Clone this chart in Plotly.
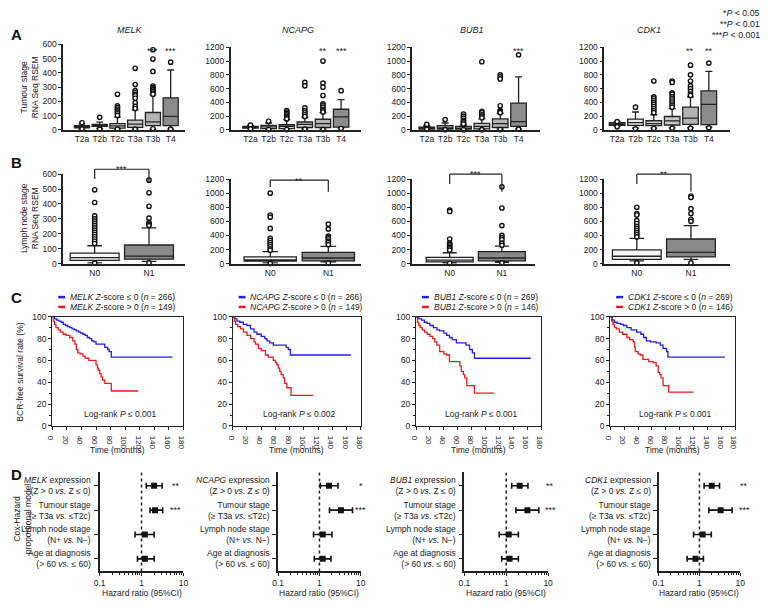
import plotly.graph_objects as go

W, H = 768, 606
FONT = "Liberation Sans, Arial, Helvetica, sans-serif"

# ---------------- data ----------------
GENES = ["MELK", "NCAPG", "BUB1", "CDK1"]
T_STAGES = ["T2a", "T2b", "T2c", "T3a", "T3b", "T4"]
N_STAGES = ["N0", "N1"]
Y_MAX = {"MELK": 600, "NCAPG": 1200, "BUB1": 1200, "CDK1": 1200}
Y_DTICK = {"MELK": 100, "NCAPG": 200, "BUB1": 200, "CDK1": 200}

# Panel A: tumour stage, RNA Seq RSEM box statistics
A_LO = {"MELK": [8, 10, 5, 5, 5, 5], "NCAPG": [20, 10, 10, 15, 10, 30],
        "BUB1": [10, 5, 5, 5, 10, 15], "CDK1": [55, 25, 25, 30, 30, 40]}
A_Q1 = {"MELK": [15, 25, 12, 18, 30, 30], "NCAPG": [25, 20, 20, 35, 35, 40],
        "BUB1": [12, 10, 10, 15, 35, 50], "CDK1": [65, 67, 62, 71, 81, 76]}
A_MED = {"MELK": [22, 31, 28, 40, 57, 95], "NCAPG": [40, 45, 50, 80, 90, 190],
         "BUB1": [25, 30, 25, 50, 90, 120], "CDK1": [85, 105, 90, 130, 170, 370]}
A_Q3 = {"MELK": [30, 38, 44, 69, 122, 225], "NCAPG": [50, 65, 75, 115, 155, 300],
        "BUB1": [40, 60, 50, 95, 160, 390], "CDK1": [105, 157, 133, 195, 330, 567]}
A_HI = {"MELK": [42, 55, 90, 140, 245, 420], "NCAPG": [60, 100, 150, 180, 250, 440],
        "BUB1": [60, 100, 75, 160, 240, 770], "CDK1": [115, 260, 220, 310, 480, 850]}
A_OUT = {
    "MELK": [[50, 6], [88, 5], [250, 168, 156, 145, 133, 124, 113, 101, 5],
             [432, 318, 275, 262, 250, 240, 222, 190, 165, 150, 5],
             [562, 497, 410, 308, 298, 288, 280, 270, 258, 250, 8], [475, 5]],
    "NCAPG": [[70, 15], [125, 5], [280, 260, 240, 220, 200, 180, 160, 5],
              [690, 640, 320, 280, 250, 220, 195, 10],
              [1000, 680, 620, 500, 380, 360, 330, 300, 280, 260, 5], [570, 20]],
    "BUB1": [[80, 8], [150, 3], [230, 200, 170, 140, 120, 100, 85, 3],
             [990, 270, 250, 220, 200, 175, 3],
             [800, 770, 740, 350, 280, 265, 250, 5], [1090, 10]],
    "CDK1": [[120, 45], [330, 15], [710, 480, 460, 430, 400, 370, 340, 310, 280, 250, 20],
             [710, 690, 540, 520, 480, 450, 420, 390, 360, 330, 25],
             [940, 800, 710, 640, 600, 560, 520, 500, 25], [970, 30]],
}
A_SIG = {"MELK": ["", "", "", "", "***", "***"], "NCAPG": ["", "", "", "", "**", "***"],
         "BUB1": ["", "", "", "", "", "***"], "CDK1": ["", "", "", "", "**", "**"]}
A_FILL = ["#959595", "#e8e8e8", "#d2d2d2", "#c6c6c6", "#b4b4b4", "#8c8c8c"]

# Panel B: lymph node stage box statistics
B_LO = {"MELK": [5, 15], "NCAPG": [10, 25], "BUB1": [10, 20], "CDK1": [40, 60]}
B_Q1 = {"MELK": [22, 30], "NCAPG": [35, 40], "BUB1": [25, 40], "CDK1": [60, 95]}
B_MED = {"MELK": [40, 50], "NCAPG": [55, 80], "BUB1": [50, 80], "CDK1": [105, 160]}
B_Q3 = {"MELK": [70, 125], "NCAPG": [95, 160], "BUB1": [90, 170], "CDK1": [195, 350]}
B_HI = {"MELK": [120, 240], "NCAPG": [170, 245], "BUB1": [155, 250], "CDK1": [360, 540]}
B_OUT = {
    "MELK": [[495, 410, 320, 300, 285, 270, 255, 240, 225, 210, 195, 180, 165, 150, 135, 3],
             [560, 475, 385, 305, 275, 265, 255, 5]],
    "NCAPG": [[1000, 690, 660, 500, 360, 330, 300, 270, 240, 210, 190, 3],
              [560, 490, 390, 370, 350, 320, 300, 270, 5]],
    "BUB1": [[760, 740, 350, 290, 270, 250, 230, 210, 190, 5],
             [1090, 790, 540, 400, 370, 340, 290, 260, 10]],
    "CDK1": [[800, 710, 690, 610, 570, 530, 500, 470, 440, 410, 380, 10],
             [960, 940, 780, 710, 630, 600, 10]],
}
B_SIG = {"MELK": "***", "NCAPG": "**", "BUB1": "***", "CDK1": "**"}
B_FILL = ["#f6f6f6", "#8a8a8a"]

# Panel C: Kaplan-Meier BCR-free survival (%)
KM_N = {"MELK": (266, 149), "NCAPG": (266, 149), "BUB1": (269, 146), "CDK1": (269, 146)}
KM_P = {"MELK": "0.001", "NCAPG": "0.002", "BUB1": "0.001", "CDK1": "0.001"}
KM_LOW_T = {
    "MELK": [0, 3, 6, 9, 12, 15, 18, 21, 24, 27, 30, 33, 36, 39, 42, 45, 48, 51, 54, 57, 60, 72, 76, 78, 81, 165],
    "NCAPG": [0, 3, 6, 10, 15, 20, 25, 30, 34, 40, 45, 48, 52, 57, 75, 78, 81, 166],
    "BUB1": [0, 4, 8, 12, 16, 20, 25, 30, 34, 40, 44, 48, 52, 58, 72, 77, 81, 84, 165],
    "CDK1": [0, 3, 6, 10, 15, 19, 24, 30, 38, 44, 48, 52, 58, 66, 72, 76, 81, 83, 165],
}
KM_LOW_S = {
    "MELK": [100, 98, 97, 96, 95, 93, 92, 91, 90, 89, 88, 87, 86, 85, 84, 83, 81, 80, 78, 77, 75, 72, 70, 68, 63, 63],
    "NCAPG": [100, 98, 96, 95, 93, 92, 89, 86, 84, 82, 80, 78, 76, 74, 72, 70, 65, 65],
    "BUB1": [100, 98, 97, 95, 94, 92, 90, 88, 87, 85, 83, 81, 79, 76, 74, 70, 67, 62, 62],
    "CDK1": [100, 97, 95, 94, 93, 92, 90, 88, 86, 84, 81, 78, 77, 76, 74, 71, 68, 63, 63],
}
KM_HIGH_T = {
    "MELK": [0, 1, 3, 5, 8, 11, 15, 19, 24, 28, 31, 33, 35, 38, 42, 45, 50, 60, 62, 63, 65, 67, 69, 72, 78, 81, 118],
    "NCAPG": [0, 2, 4, 7, 11, 15, 20, 25, 30, 32, 36, 40, 46, 50, 57, 60, 62, 64, 66, 68, 71, 73, 76, 80, 82, 113],
    "BUB1": [0, 2, 4, 6, 9, 12, 16, 20, 24, 27, 30, 34, 40, 44, 48, 63, 65, 68, 70, 73, 74, 81, 84, 112],
    "CDK1": [0, 2, 4, 6, 9, 13, 18, 24, 28, 33, 35, 36, 40, 43, 47, 55, 62, 66, 69, 71, 73, 76, 83, 84, 120],
}
KM_HIGH_S = {
    "MELK": [100, 96, 93, 90, 88, 86, 84, 83, 81, 78, 75, 70, 67, 66, 64, 62, 60, 56, 53, 51, 48, 45, 42, 39, 39, 32, 32],
    "NCAPG": [100, 96, 93, 91, 89, 86, 83, 80, 77, 75, 71, 69, 65, 63, 60, 58, 56, 53, 50, 47, 44, 39, 35, 35, 28, 28],
    "BUB1": [100, 95, 92, 90, 88, 86, 84, 82, 80, 77, 74, 68, 66, 65, 59, 55, 50, 47, 44, 37, 37, 37, 30, 30],
    "CDK1": [100, 96, 93, 90, 89, 86, 84, 81, 79, 77, 72, 68, 66, 65, 61, 59, 58, 55, 49, 47, 44, 37, 37, 31, 31],
}
KM_XTICKS = [0, 20, 40, 60, 80, 100, 120, 140, 160, 180]
KM_YTICKS = [0, 20, 40, 60, 80, 100]

# Panel D: Cox proportional hazard model
D_LABELS = ["{g} expression<br>(Z > 0 <i>vs.</i> Z ≤ 0)",
            "Tumour stage<br>(≥ T3a <i>vs.</i> ≤T2c)",
            "Lymph node stage<br>(N+ <i>vs.</i> N−)",
            "Age at diagnosis<br>(> 60 <i>vs.</i> ≤ 60)"]
D_HR = {"MELK": [2.0, 2.1, 1.2, 1.2], "NCAPG": [1.7, 3.3, 1.2, 1.2],
        "BUB1": [2.1, 3.2, 1.15, 1.2], "CDK1": [2.0, 3.3, 1.2, 0.8]}
D_LO = {"MELK": [1.3, 1.6, 0.7, 0.8], "NCAPG": [1.05, 1.75, 0.72, 0.75],
        "BUB1": [1.35, 1.7, 0.68, 0.78], "CDK1": [1.3, 1.7, 0.72, 0.5]}
D_HI = {"MELK": [3.1, 3.2, 2.0, 2.0], "NCAPG": [2.8, 6.3, 2.0, 1.9],
        "BUB1": [3.3, 6.0, 1.95, 1.95], "CDK1": [3.1, 6.3, 1.95, 1.25]}
D_SIG = {"MELK": ["**", "***", "", ""], "NCAPG": ["*", "***", "", ""],
         "BUB1": ["**", "***", "", ""], "CDK1": ["**", "***", "", ""]}
D_ROWS = [3, 2, 1, 0]

# ---------------- layout geometry (pixels) ----------------
A_X = [(58, 182), (228, 360), (412, 542), (607, 735)]
A_XR = [[-1.06, 5.83], [-1.09, 6.09], [-0.8, 6.18], [-0.7, 6.18]]
A_YTOP = {"MELK": 40, "NCAPG": 43, "BUB1": 43, "CDK1": 43}
A_YBOT = 127
B_X = [(58, 182), (228, 360), (412, 537), (607, 735)]
B_XR = [[-0.58, 1.67], [-0.68, 1.56], [-0.72, 1.64], [-0.6, 1.73]]
B_YTOP = {"MELK": 172, "NCAPG": 177, "BUB1": 177, "CDK1": 177}
B_YBOT = 263
B_BRACKET = {"MELK": (167, 177, 180, 160), "NCAPG": (178, 185, 190, 172),
             "BUB1": (172, 182, 190, 165), "CDK1": (172, 182, 190, 165)}
C_X = [(47, 180), (230, 360), (416, 543), (613, 740)]
C_Y = (317, 428)
D_X = [(95, 180), (276, 360), (465, 550), (662, 745)]
D_Y = (475, 576)
D_LABEL_RIGHT = [88, 270, 459, 656]
D_STAR_X = [172, 360, 552, 749]
GENE_TITLE_X = [126, 296, 473, 652]

layout = {}
ann = []
shp = []
fig = go.Figure()
counter = [0]


def px(x):
    return x / W


def py(y):
    return 1 - y / H


def new_axes(xpx, ypx, xopts, yopts):
    counter[0] += 1
    n = counter[0]
    s = "" if n == 1 else str(n)
    layout["xaxis" + s] = dict(domain=[px(xpx[0]), px(xpx[1])], anchor="y" + s, **xopts)
    layout["yaxis" + s] = dict(domain=[py(ypx[1]), py(ypx[0])], anchor="x" + s, **yopts)
    return "x" + s, "y" + s


def text(t, x, y, size=8.5, xanchor="center", yanchor="middle", **kw):
    d = dict(text=t, x=px(x), y=py(y), xref="paper", yref="paper", showarrow=False,
             xanchor=xanchor, yanchor=yanchor, font=dict(size=size, family=FONT, color="#222"))
    d.update(kw)
    ann.append(d)


AX = dict(showline=True, linecolor="#222", linewidth=1.5, showgrid=False, zeroline=False,
          tickfont=dict(size=8.5, family=FONT, color="#222"), tickcolor="#222")

OUT_MARK = dict(symbol="circle", size=4.3, color="white", line=dict(color="#111", width=1.4))

# ---------------- Panel A ----------------
for c, g in enumerate(GENES):
    xr, yr = new_axes(A_X[c], (A_YTOP[g], A_YBOT),
                      dict(AX, range=A_XR[c], tickmode="array", tickvals=list(range(6)),
                           ticktext=T_STAGES, ticks=""),
                      dict(AX, range=[0, Y_MAX[g]], dtick=Y_DTICK[g], ticks="outside", ticklen=3))
    for i in range(6):
        fig.add_trace(go.Box(x=[i], lowerfence=[A_LO[g][i]], q1=[A_Q1[g][i]], median=[A_MED[g][i]],
                             q3=[A_Q3[g][i]], upperfence=[A_HI[g][i]], boxpoints=False, width=0.85,
                             whiskerwidth=0.45, fillcolor=A_FILL[i], line=dict(color="#222", width=1.3),
                             xaxis=xr, yaxis=yr, showlegend=False, hoverinfo="skip"))
        fig.add_trace(go.Scatter(x=[i] * len(A_OUT[g][i]), y=A_OUT[g][i], mode="markers",
                                 marker=OUT_MARK, xaxis=xr, yaxis=yr, showlegend=False,
                                 hoverinfo="skip", cliponaxis=False))
        if A_SIG[g][i]:
            ann.append(dict(text=A_SIG[g][i], x=i, xref=xr, y=py(40), yref="paper", showarrow=False,
                            font=dict(size=9, family=FONT, color="#222")))
    text("<i>%s</i>" % g, GENE_TITLE_X[c], 25, size=9)

# ---------------- Panel B ----------------
for c, g in enumerate(GENES):
    xr, yr = new_axes(B_X[c], (B_YTOP[g], B_YBOT),
                      dict(AX, range=B_XR[c], tickmode="array", tickvals=[0, 1],
                           ticktext=N_STAGES, ticks=""),
                      dict(AX, range=[0, Y_MAX[g]], dtick=Y_DTICK[g], ticks="outside", ticklen=3))
    for i in range(2):
        fig.add_trace(go.Box(x=[i], lowerfence=[B_LO[g][i]], q1=[B_Q1[g][i]], median=[B_MED[g][i]],
                             q3=[B_Q3[g][i]], upperfence=[B_HI[g][i]], boxpoints=False, width=0.9,
                             whiskerwidth=0.3, fillcolor=B_FILL[i], line=dict(color="#222", width=1.3),
                             xaxis=xr, yaxis=yr, showlegend=False, hoverinfo="skip"))
        fig.add_trace(go.Scatter(x=[i] * len(B_OUT[g][i]), y=B_OUT[g][i], mode="markers",
                                 marker=OUT_MARK, xaxis=xr, yaxis=yr, showlegend=False,
                                 hoverinfo="skip", cliponaxis=False))
    top, l_bot, r_bot, star_y = B_BRACKET[g]
    for x0, y0, x1, y1 in [(0, py(l_bot), 0, py(top)), (0, py(top), 1, py(top)), (1, py(top), 1, py(r_bot))]:
        shp.append(dict(type="line", xref=xr, yref="paper", x0=x0, x1=x1, y0=y0, y1=y1,
                        line=dict(color="#222", width=1.2)))
    ann.append(dict(text=B_SIG[g], x=0.5, xref=xr, y=py(star_y), yref="paper", showarrow=False,
                    font=dict(size=9, family=FONT, color="#222")))

# ---------------- Panel C ----------------
for c, g in enumerate(GENES):
    xr, yr = new_axes(C_X[c], C_Y,
                      dict(AX, range=[0, 180], tickmode="array", tickvals=KM_XTICKS, ticks="outside",
                           ticklen=3, mirror=True, linewidth=1.2, tickfont=dict(size=8, family=FONT, color="#222")),
                      dict(AX, range=[0, 100], tickmode="array", tickvals=KM_YTICKS, ticks="outside",
                           ticklen=3, mirror=True, linewidth=1.2,
                           minor=dict(ticks="outside", ticklen=2, dtick=10, tickcolor="#222")))
    fig.add_trace(go.Scatter(x=KM_LOW_T[g], y=KM_LOW_S[g], mode="lines", line_shape="hv",
                             line=dict(color="#1f1fe6", width=1.3), xaxis=xr, yaxis=yr,
                             showlegend=False, hoverinfo="skip"))
    fig.add_trace(go.Scatter(x=KM_HIGH_T[g], y=KM_HIGH_S[g], mode="lines", line_shape="hv",
                             line=dict(color="#e81e1e", width=1.3), xaxis=xr, yaxis=yr,
                             showlegend=False, hoverinfo="skip"))
    x0, x1 = C_X[c]
    lx = x0 + 6
    n_lo, n_hi = KM_N[g]
    for yy, col, sign, n in [(297, "#1f1fe6", "≤", n_lo), (307, "#e81e1e", ">", n_hi)]:
        shp.append(dict(type="line", xref="paper", yref="paper", x0=px(lx), x1=px(lx + 7),
                        y0=py(yy), y1=py(yy), line=dict(color=col, width=2.5)))
        text("<i>%s Z</i>-score %s 0 (<i>n</i> = %d)" % (g, sign, n), lx + 10, yy, size=8.5, xanchor="left")
    text("Log-rank <i>P</i> ≤ %s" % KM_P[g], x0 + 0.52 * (x1 - x0), 416, size=8.5)
    text("Time (months)", (x0 + x1) / 2, 452, size=8.5)

# ---------------- Panel D ----------------
MINOR_LOG = [0.2, 0.3, 0.4, 0.5, 0.6, 0.7, 0.8, 0.9, 2, 3, 4, 5, 6, 7, 8, 9]
for c, g in enumerate(GENES):
    xr, yr = new_axes(D_X[c], D_Y,
                      dict(AX, type="log", range=[-1, 1], tickmode="array", tickvals=[0.1, 1, 10],
                           ticktext=["0.1", "1", "10"], ticks="outside", ticklen=3,
                           minor=dict(tickmode="array", tickvals=MINOR_LOG, ticks="outside", ticklen=2,
                                      tickcolor="#222")),
                      dict(AX, range=[-0.52, 3.56], tickmode="array", tickvals=D_ROWS,
                           showticklabels=False, ticks="outside", ticklen=4))
    fig.add_trace(go.Scatter(x=[1, 1], y=[-0.52, 3.56], mode="lines",
                             line=dict(color="#222", width=1.5, dash="dot"), xaxis=xr, yaxis=yr,
                             showlegend=False, hoverinfo="skip"))
    hr = D_HR[g]
    fig.add_trace(go.Scatter(x=hr, y=D_ROWS, mode="markers",
                             marker=dict(symbol="square", size=6, color="#111"),
                             error_x=dict(type="data", symmetric=False,
                                          array=[h - m for h, m in zip(D_HI[g], hr)],
                                          arrayminus=[m - l for m, l in zip(hr, D_LO[g])],
                                          color="#111", thickness=1.6, width=3),
                             xaxis=xr, yaxis=yr, showlegend=False, hoverinfo="skip"))
    for r, lab, sig in zip(D_ROWS, D_LABELS, D_SIG[g]):
        t = lab.replace("{g}", "<i>%s</i>" % g)
        ann.append(dict(text=t, x=px(D_LABEL_RIGHT[c]), xref="paper", y=r, yref=yr, showarrow=False,
                        xanchor="right", yanchor="middle", align="right",
                        font=dict(size=8.5, family=FONT, color="#222")))
        if sig:
            ann.append(dict(text=sig, x=px(D_STAR_X[c]), xref="paper", y=r, yref=yr, showarrow=False,
                            xanchor="center", yanchor="middle",
                            font=dict(size=9, family=FONT, color="#222")))
    text("Hazard ratio (95%CI)", (D_X[c][0] + D_X[c][1]) / 2, 598, size=8.5)

# ---------------- labels ----------------
for letter, yy in [("A", 30), ("B", 160), ("C", 297), ("D", 477)]:
    text("<b>%s</b>" % letter, 3, yy, size=15, xanchor="left", font=dict(size=15, family=FONT, color="#111"))

text("Tumour stage<br>RNA Seq RSEM", 24, 84, size=8.5, textangle=-90)
text("Lymph node stage<br>RNA Seq RSEM", 24, 217, size=8.5, textangle=-90)
text("BCR-free survival rate (%)", 14, 373, size=8.5, textangle=-90)
text("Cox-Hazard<br>proportional model", 17, 522, size=8.5, textangle=-90)

text("*<i>P</i> < 0.05", 767, 8, size=8.8, xanchor="right")
text("**<i>P</i> < 0.01", 767, 19, size=8.8, xanchor="right")
text("***<i>P</i> < 0.001", 767, 30, size=8.8, xanchor="right")

fig.update_layout(**layout)
fig.update_layout(width=W, height=H, margin=dict(l=0, r=0, t=0, b=0), autosize=False,
                  paper_bgcolor="white", plot_bgcolor="white", annotations=ann, shapes=shp,
                  font=dict(family=FONT, size=8.5, color="#222"), showlegend=False)

fig.write_html("out.html", include_plotlyjs=True, full_html=True,
               post_script="document.body.style.margin='0';document.body.style.overflow='hidden';",
               config={"displayModeBar": False})
